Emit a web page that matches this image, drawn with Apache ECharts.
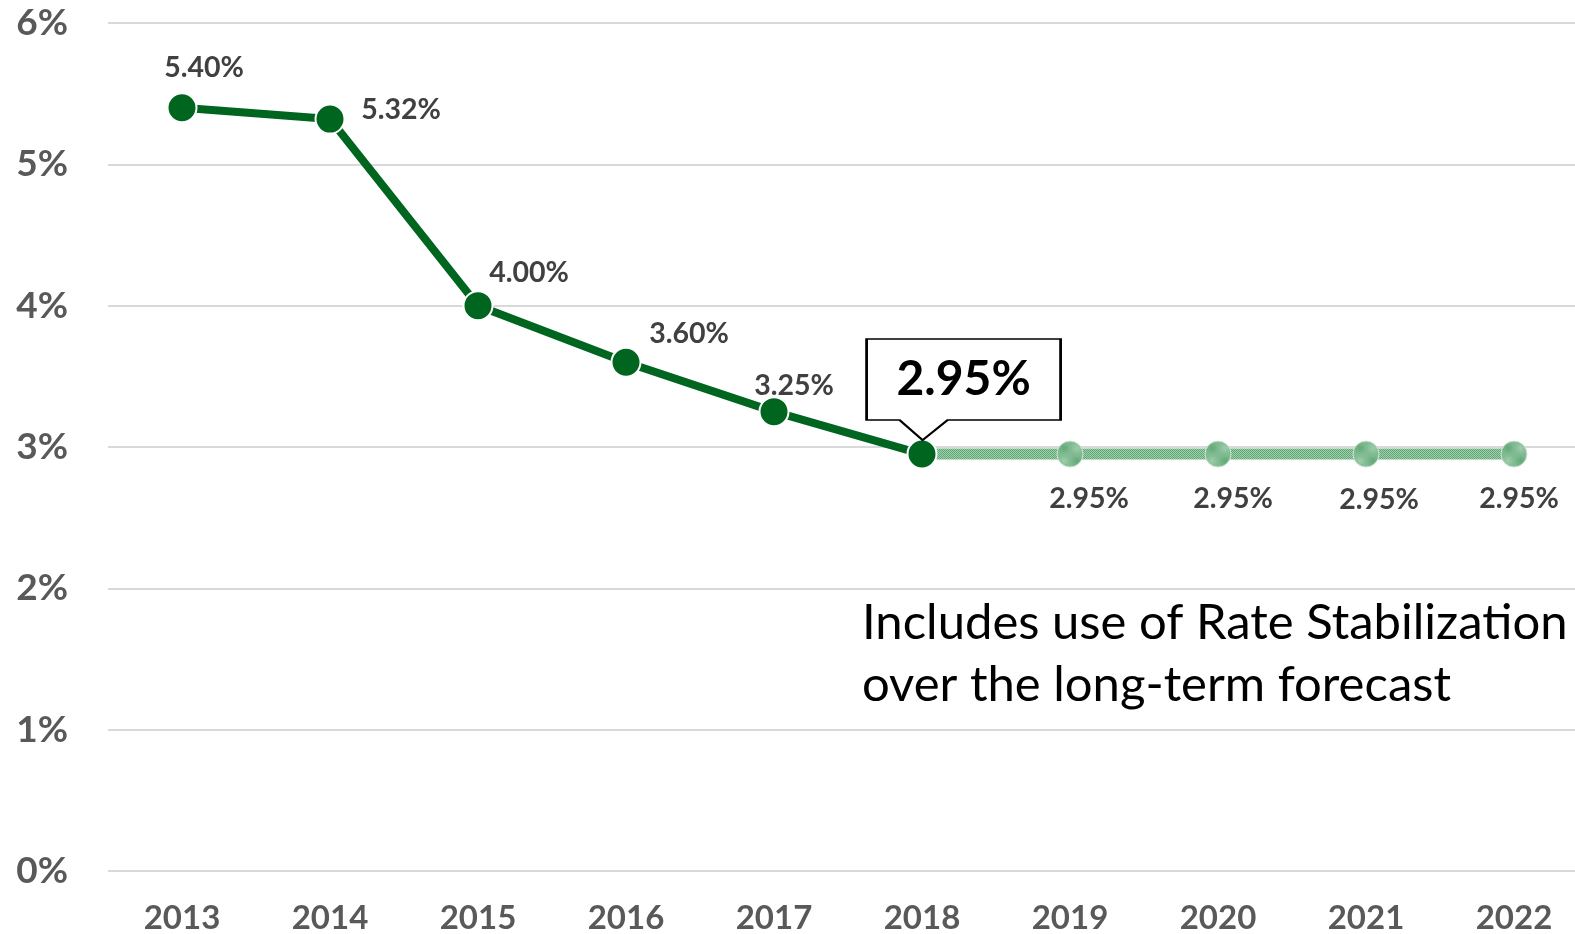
<!DOCTYPE html>
<html>
<head>
<meta charset="utf-8">
<script src="https://cdn.jsdelivr.net/npm/echarts@6/dist/echarts.min.js"></script>
<style>
html,body{margin:0;padding:0;background:#fff;overflow:hidden;}
#chart{width:1575px;height:934px;}
</style>
</head>
<body>
<div id="chart"></div>
<script>
// ---- data ----
const years = ['2013','2014','2015','2016','2017','2018','2019','2020','2021','2022'];
const actualRates = [5.40, 5.32, 4.00, 3.60, 3.25, 2.95, null, null, null, null];
const forecastRates = [null, null, null, null, null, 2.95, 2.95, 2.95, 2.95, 2.95];
const yTicks = [0, 1, 2, 3, 4, 5, 6];
const calloutYear = '2018';
const calloutValue = 2.95;
const noteText = 'Includes use of Rate Stabilization\nover the long-term forecast';

// label offsets (style only)
const actualLabelOffsets = [[22,-40],[71,-9],[51,-33],[63,-28],[20,-26]];
const forecastLabelOffsets = [null,null,null,null,null,null,[19,45],[15,45],[13,46],[5,45]];

const FONT = 'Lato';
const darkGreen = '#00651f';

// texture for forecast line
function makePattern() {
  const c = document.createElement('canvas');
  c.width = 4; c.height = 4;
  const ctx = c.getContext('2d');
  ctx.fillStyle = '#a3cfae';
  ctx.fillRect(0,0,4,4);
  ctx.fillStyle = '#5ea775';
  ctx.fillRect(0,0,1,1); ctx.fillRect(2,0,1,1);
  ctx.fillRect(1,1,1,1); ctx.fillRect(3,1,1,1);
  ctx.fillRect(0,2,1,1); ctx.fillRect(2,2,1,1);
  ctx.fillRect(1,3,1,1); ctx.fillRect(3,3,1,1);
  return {image: c, repeat: 'repeat'};
}
const pat = makePattern();

const actualData = actualRates.map((v, i) => {
  if (v === null) return null;
  const item = {value: v};
  if (years[i] === calloutYear) {
    item.label = {show: false};
  } else {
    item.label = {offset: actualLabelOffsets[i]};
  }
  return item;
});
const forecastData = forecastRates.map((v, i) => {
  if (v === null) return null;
  const item = {value: v};
  if (forecastLabelOffsets[i]) {
    item.label = {show: true, offset: forecastLabelOffsets[i]};
  } else {
    item.symbolSize = 0;
    item.label = {show: false};
  }
  return item;
});

const chart = echarts.init(document.getElementById('chart'), null, {renderer: 'canvas'});
chart.setOption({
  animation: false,
  backgroundColor: '#fff',
  grid: {left: 108, width: 1480, top: 23, bottom: 63, containLabel: false, outerBoundsMode: 'none'},
  xAxis: {
    type: 'category',
    data: years,
    boundaryGap: true,
    axisLine: {show: false},
    axisTick: {show: false},
    axisLabel: {color: '#595959', fontFamily: FONT, fontWeight: 'bold', fontSize: 33, margin: 31}
  },
  yAxis: {
    type: 'value',
    min: yTicks[0], max: yTicks[yTicks.length-1], interval: 1,
    axisLine: {show: false},
    axisTick: {show: false},
    splitLine: {lineStyle: {color: '#d9d9d9', width: 2}},
    axisLabel: {color: '#595959', fontFamily: FONT, fontWeight: 'bold', fontSize: 37, margin: 40,
      formatter: v => v + '%'}
  },
  series: [
    {
      type: 'line',
      data: forecastData,
      z: 2,
      symbol: 'circle',
      symbolSize: 26,
      lineStyle: {color: pat, width: 11},
      itemStyle: {color: pat, borderColor: '#cfe6d5', borderWidth: 1},
      label: {show: true, position: 'inside', color: '#404040', fontFamily: FONT, fontWeight: 'bold', fontSize: 28.5,
        formatter: p => p.value.toFixed(2) + '%'}
    },
    {
      type: 'line',
      data: actualData,
      z: 3,
      symbol: 'circle',
      symbolSize: 29,
      lineStyle: {color: darkGreen, width: 8},
      itemStyle: {color: darkGreen, borderColor: '#ffffff', borderWidth: 2},
      label: {show: true, position: 'inside', color: '#404040', fontFamily: FONT, fontWeight: 'bold', fontSize: 28.5,
        formatter: p => p.value.toFixed(2) + '%'},
      markPoint: {
        silent: true,
        symbol: 'path://M0,0 L194,0 L194,81 L81,81 L56,101 L33,81 L0,81 Z',
        symbolSize: [194, 101],
        symbolOffset: [41.6, -64.5],
        itemStyle: {color: '#ffffff', borderColor: '#000000', borderWidth: 2},
        label: {show: true, position: 'inside', offset: [0, -10], color: '#000', fontFamily: FONT, fontWeight: 'bold', fontSize: 48,
          formatter: () => calloutValue.toFixed(2) + '%'},
        data: [{coord: [calloutYear, calloutValue]}]
      }
    }
  ],
  graphic: [{
    type: 'text',
    left: 862, top: 592,
    style: {text: noteText, fill: '#000', font: '49px Lato', lineHeight: 62}
  }]
});
</script>
</body>
</html>
